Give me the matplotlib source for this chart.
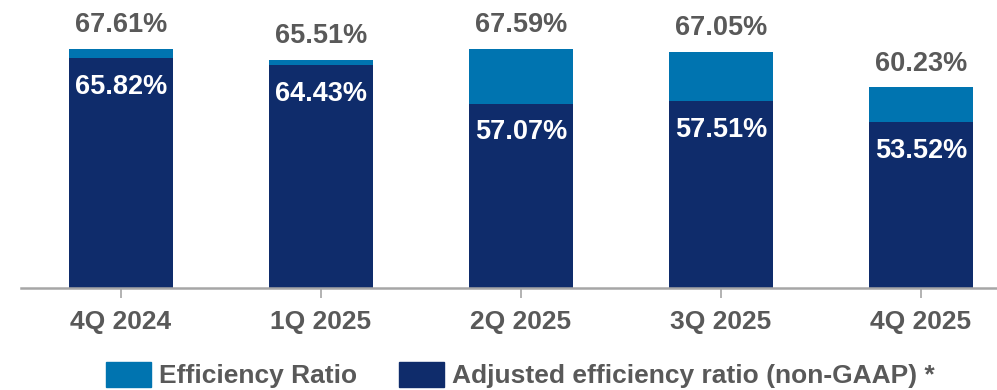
import matplotlib.pyplot as plt

quarters = ["4Q 2024", "1Q 2025", "2Q 2025", "3Q 2025", "4Q 2025"]
efficiency = [67.61, 65.51, 67.59, 67.05, 60.23]
adjusted = [65.82, 64.43, 57.07, 57.51, 53.52]

dark = "#0F2C6B"
light = "#0074B0"
grey = "#595959"

plt.rcParams["font.family"] = ["Liberation Sans", "DejaVu Sans"]
plt.rcParams["font.weight"] = "bold"

fig = plt.figure(figsize=(9.97, 3.9), dpi=100)
ax = fig.add_axes([21 / 997, 102 / 390, 976 / 997, 288 / 390])

x = range(len(quarters))
ymin = 21.6
ax.bar(x, [e - ymin for e in efficiency], bottom=ymin, width=0.52, color=light)
ax.bar(x, [a - ymin for a in adjusted], bottom=ymin, width=0.52, color=dark)

for i in x:
    ax.annotate(f"{efficiency[i]:.2f}%", (i, efficiency[i]), xytext=(0, 17),
                textcoords="offset points", ha="center", va="center",
                fontsize=19.5, color=grey, fontweight="bold")
    ax.annotate(f"{adjusted[i]:.2f}%", (i, adjusted[i]), xytext=(0, -20.5),
                textcoords="offset points", ha="center", va="center",
                fontsize=19.5, color="white", fontweight="bold")

ax.set_xlim(-0.5, 4.38)
ax.set_ylim(ymin, 77.0)
ax.set_xticks(list(x))
ax.set_xticklabels(quarters, fontsize=19, color=grey, fontweight="bold")
ax.set_yticks([])
for s in ["top", "right", "left"]:
    ax.spines[s].set_visible(False)
ax.spines["bottom"].set_color("#A6A6A6")
ax.spines["bottom"].set_linewidth(1.8)
ax.tick_params(axis="x", length=7.5, width=1.2, color="#A6A6A6", pad=8)

handles = [plt.Rectangle((0, 0), 1, 1, color=light), plt.Rectangle((0, 0), 1, 1, color=dark)]
leg = fig.legend(handles, ["Efficiency Ratio", "Adjusted efficiency ratio (non-GAAP) *"],
                 loc="center", bbox_to_anchor=(0.522, 15 / 390), ncol=2, frameon=False,
                 prop={"size": 19, "weight": "bold"}, handlelength=1.7, handleheight=1.1,
                 handletextpad=0.3, columnspacing=1.6, borderpad=0)
for t in leg.get_texts():
    t.set_color(grey)

fig.savefig("out.png", dpi=100)
